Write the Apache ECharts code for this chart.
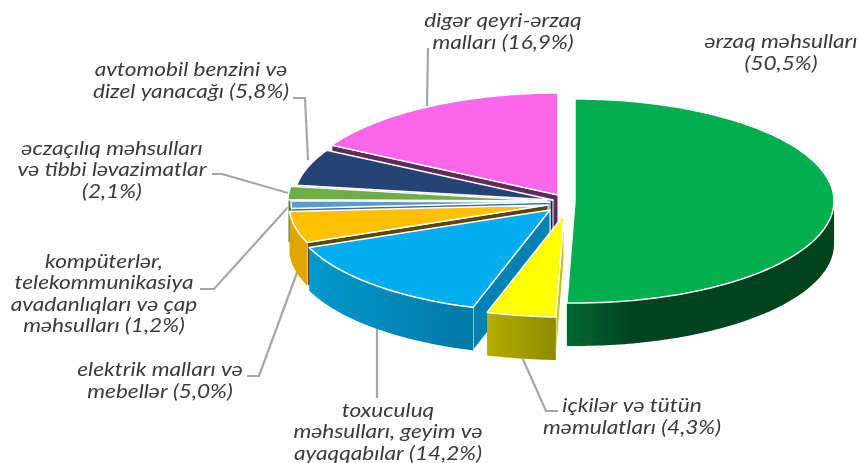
<!DOCTYPE html>
<html>
<head>
<meta charset="utf-8">
<style>
  html, body { margin: 0; padding: 0; background: #fff; }
  #main { width: 861px; height: 463px; }
</style>
<script src="https://cdn.jsdelivr.net/npm/echarts@6/dist/echarts.min.js"></script>
</head>
<body>
<div id="main"></div>
<script>
// clockwise from 12 o'clock
var categories = [
  'ərzaq məhsulları\n(50,5%)',
  'içkilər və tütün\nməmulatları (4,3%)',
  'toxuculuq\nməhsulları, geyim və\nayaqqabılar (14,2%)',
  'elektrik malları və\nmebellər (5,0%)',
  'kompüterlər,\ntelekommunikasiya\navadanlıqları və çap\nməhsulları (1,2%)',
  'əczaçılıq məhsulları\nvə tibbi ləvazimatlar\n(2,1%)',
  'avtomobil benzini və\ndizel yanacağı (5,8%)',
  'digər qeyri-ərzaq\nmalları (16,9%)'
];
var values = [50.5, 4.3, 14.2, 5.0, 1.2, 2.1, 5.8, 16.9];

var topColors = ['#00ae4f', '#ffff00', '#00aeef', '#ffc000', '#5b9bd5', '#70ad47', '#254375', '#fb66ea'];
// wall gradients, left to right
var wallColors = [
  [[0, '#006830'], [0.25, '#01431f'], [1, '#01431f']],
  [[0, '#b3ae00'], [1, '#8f8a00']],
  [[0, '#0098cc'], [1, '#0078a5']],
  [[0, '#dea600'], [1, '#dea600']],
  [[0, '#4a82b5'], [1, '#4a82b5']],
  [[0, '#5f9239'], [1, '#5f9239']],
  [[0, '#1c3359'], [1, '#1c3359']],
  [[0, '#c44fb8'], [1, '#c44fb8']]
];
var cutColors = ['#01431f', '#c9c400', '#0081b3', '#5f4500', '#3f6f9c', '#4f7a30', '#16294a', '#5f2a5a'];

// each slice is pulled out by its own amount, so every one has its own apex
var apexX = [575, 564, 550, 548, 550, 547, 553, 558];
var apexY = [201, 215, 210, 205, 202, 201, 200, 195];
var RX = 259, RY = 102, DEPTH = 43;

var total = values.reduce(function (a, b) { return a + b; }, 0);

function edge(i, deg, dy) {
  var r = deg * Math.PI / 180;
  return [apexX[i] + RX * Math.sin(r), apexY[i] - RY * Math.cos(r) + (dy || 0)];
}

function startOf(i) {
  var s = 0;
  for (var k = 0; k < i; k++) s += values[k];
  return s / total * 360;
}

function arc(i, a, b, dy) {
  var pts = [];
  for (var d = a; d < b; d += 1) pts.push(edge(i, d, dy));
  pts.push(edge(i, b, dy));
  return pts;
}

function wallFill(i) {
  var stops = wallColors[i].map(function (s) { return { offset: s[0], color: s[1] }; });
  return new echarts.graphic.LinearGradient(0, 0, 1, 0, stops);
}

function renderSlice(params, api) {
  var i = api.value(1);
  var a = startOf(i);
  var b = a + api.value(0) / total * 360;
  var kids = [];
  var apex = [apexX[i], apexY[i]];

  // the cut face at the start angle looks at the viewer
  if (Math.sin(a * Math.PI / 180) < -0.001) {
    var c = edge(i, a);
    kids.push({
      type: 'polygon',
      shape: { points: [apex, c, [c[0], c[1] + DEPTH], [apex[0], apex[1] + DEPTH]] },
      style: { fill: cutColors[i], stroke: '#fff', lineWidth: 1 }
    });
  }
  // outer wall, only the front half of the rim
  var wa = Math.max(a, 90), wb = Math.min(b, 270);
  if (wb > wa) {
    var wall = arc(i, wa, wb, 0).concat(arc(i, wa, wb, DEPTH).reverse());
    kids.push({
      type: 'polygon',
      shape: { points: wall },
      style: { fill: wallFill(i) }
    });
  }
  kids.push({
    type: 'polygon',
    shape: { points: [apex].concat(arc(i, a, b, 0)) },
    style: { fill: topColors[i], stroke: '#fff', lineWidth: 1.5, lineJoin: 'round' }
  });
  return { type: 'group', children: kids };
}

// back to front
var sliceData = values.map(function (v, i) { return [v, i]; }).reverse();

var labelX = [781, 632, 388, 160, 104, 112, 191, 503];
var labelY = [53, 417, 432, 381, 294, 170, 81, 32];
var leaders = [
  null,
  [[522, 357], [546, 411], [558, 411]],
  [[377, 328], [377, 398]],
  [[298, 270], [259, 376], [247, 376]],
  [[290, 205], [214, 289], [200, 289]],
  [[288, 193], [222, 174], [212, 174]],
  [[308, 160], [305, 98], [293, 98]],
  [[427, 107], [428, 48]]
];

var graphics = [];
categories.forEach(function (name, i) {
  graphics.push({
    type: 'text',
    x: labelX[i],
    y: labelY[i],
    scaleX: 1.19,
    style: {
      text: name,
      fill: '#3a3a3a',
      font: 'italic 19px Lato, "Open Sans", sans-serif',
      lineHeight: 21.5,
      align: 'center',
      verticalAlign: 'middle'
    }
  });
  if (leaders[i]) {
    graphics.push({
      type: 'polyline',
      shape: { points: leaders[i] },
      style: { stroke: '#a6a6a6', lineWidth: 2.2, fill: 'none' },
      z: -1
    });
  }
});

var myChart = echarts.init(document.getElementById('main'), null, { renderer: 'canvas' });
myChart.setOption({
  animation: false,
  backgroundColor: '#fff',
  graphic: graphics,
  series: [{
    type: 'custom',
    coordinateSystem: 'none',
    renderItem: renderSlice,
    data: sliceData,
    silent: true
  }]
});
</script>
</body>
</html>
